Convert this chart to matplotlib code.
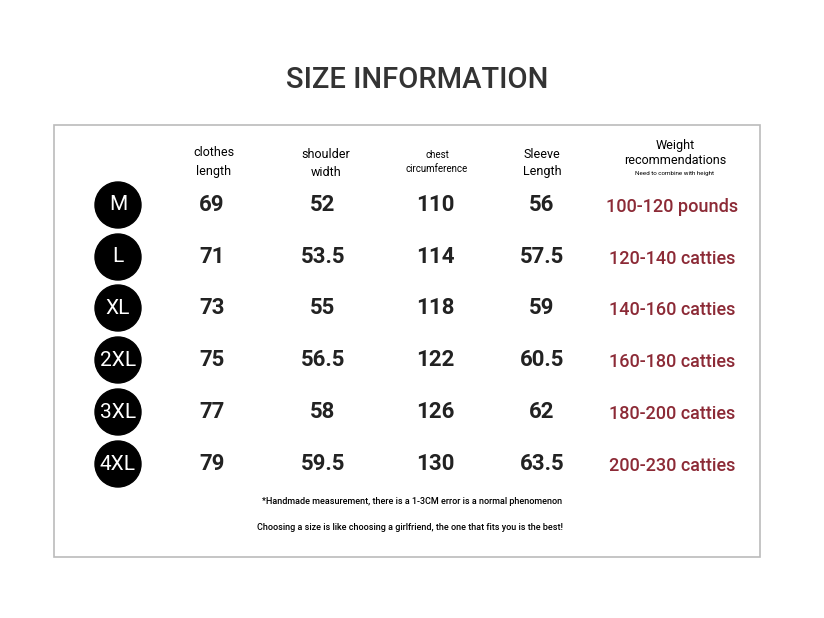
import matplotlib.pyplot as plt
from matplotlib.patches import Circle, Rectangle

# data
sizes = ["M", "L", "XL", "2XL", "3XL", "4XL"]
clothes_length = ["69", "71", "73", "75", "77", "79"]
shoulder_width = ["52", "53.5", "55", "56.5", "58", "59.5"]
chest = ["110", "114", "118", "122", "126", "130"]
sleeve = ["56", "57.5", "59", "60.5", "62", "63.5"]
weights = ["100-120 pounds", "120-140 catties", "140-160 catties",
           "160-180 catties", "180-200 catties", "200-230 catties"]

narrow = ["Roboto", "DejaVu Sans"]
red = "#8c2a36"

fig = plt.figure(figsize=(8.24, 6.18), dpi=100)
ax = fig.add_axes([0, 0, 1, 1])
ax.set_xlim(0, 824)
ax.set_ylim(618, 0)
ax.axis("off")

ax.text(417, 80, "SIZE INFORMATION", ha="center", va="center",
        fontsize=21, color="#333333", family=narrow, fontweight="medium")

ax.add_patch(Rectangle((54, 125), 706, 432, fill=False,
                       edgecolor="#bbbbbb", linewidth=1.2))

# headers
ax.text(214, 162, "clothes\nlength", ha="center", va="center",
        fontsize=9, family=narrow, linespacing=1.5)
ax.text(326, 164, "shoulder\nwidth", ha="center", va="center",
        fontsize=9, family=narrow, linespacing=1.5)
ax.text(437, 162, "chest\ncircumference", ha="center", va="center",
        fontsize=7, family=narrow, linespacing=1.6)
ax.text(542, 163, "Sleeve\nLength", ha="center", va="center",
        fontsize=9, family=narrow, linespacing=1.5)
ax.text(675, 153, "Weight\nrecommendations", ha="center", va="center",
        fontsize=9, family=narrow, linespacing=1.3)
ax.text(675, 174, "Need to combine with height", ha="center", va="center",
        fontsize=4.5, family=narrow)

row_y = [205, 257, 308, 360, 412, 464]
for i, y in enumerate(row_y):
    ax.add_patch(Circle((118, y), 23, color="black"))
    ax.text(118, y, sizes[i], ha="center", va="center", color="white",
            fontsize=15, family=narrow)
    for x, col in [(212, clothes_length), (323, shoulder_width),
                   (435, chest), (542, sleeve)]:
        ax.text(x, y, col[i], ha="center", va="center", fontsize=16,
                fontweight="bold", color="#222222", family=narrow)
    ax.text(672, y + 2, weights[i], ha="center", va="center", fontsize=13,
            color=red, family=narrow, fontweight="medium")

ax.text(412, 502, "*Handmade measurement, there is a 1-3CM error is a normal phenomenon",
        ha="center", va="center", fontsize=6.5, family=narrow, fontweight="medium")
ax.text(410, 527, "Choosing a size is like choosing a girlfriend, the one that fits you is the best!",
        ha="center", va="center", fontsize=6.5, family=narrow, fontweight="medium")

fig.savefig("out.png", dpi=100, facecolor="white")
